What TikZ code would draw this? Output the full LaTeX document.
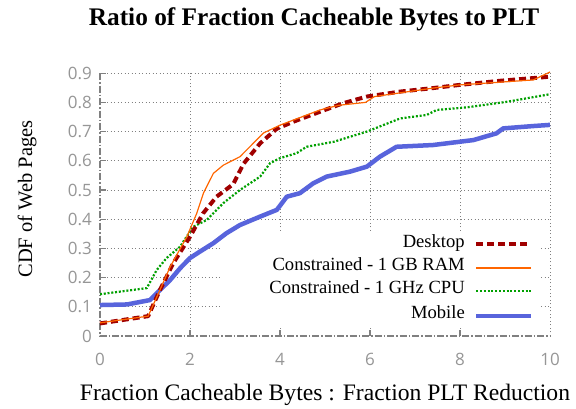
\documentclass[tikz,border=0pt]{standalone}
\usepackage{fontspec}
\setmainfont{Liberation Serif}
\newfontfamily\ticksfont{Open Sans}
\definecolor{deskred}{RGB}{160,0,0}
\definecolor{ramorange}{RGB}{255,102,0}
\definecolor{cpugreen}{RGB}{0,160,0}
\definecolor{mobblue}{RGB}{88,100,220}
\definecolor{axgray}{RGB}{128,128,128}
\definecolor{tickgray}{RGB}{150,150,150}
\tikzset{
  gridline/.style={draw=axgray, line width=0.9pt, dash pattern=on 1pt off 2.5pt},
  axisline/.style={draw=axgray, line width=1.6pt, dash pattern=on 7pt off 2pt on 1.5pt off 2pt},
  tickmark/.style={draw=axgray, line width=1.2pt},
  ticklabel/.style={text=tickgray, font=\ticksfont\fontsize{17}{17}\selectfont, inner sep=0pt},
  desktopline/.style={draw=deskred, line width=4pt, dash pattern=on 7pt off 4pt, line join=round},
  ramline/.style={draw=ramorange, line width=1.2pt, line join=round},
  cpuline/.style={draw=cpugreen, line width=2.2pt, dash pattern=on 2pt off 1.8pt, line join=round},
  mobileline/.style={draw=mobblue, line width=4.5pt, line join=round},
  legendtext/.style={anchor=mid east, inner sep=0pt, font=\fontsize{18.6}{19}\selectfont},
}
\begin{document}
\begin{tikzpicture}[x=1pt,y=1pt]
\useasboundingbox[fill=white] (0,0) rectangle (576,409);
\node[font=\bfseries\fontsize{25.3}{26}\selectfont, inner sep=0pt] (title) at (314,390) {Ratio of Fraction Cacheable Bytes to PLT};
\node[rotate=90, font=\fontsize{20.5}{21}\selectfont, inner sep=0pt] (ylabel) at (27,210) {CDF of Web Pages};
\node[font=\fontsize{23.6}{24}\selectfont, inner sep=0pt] (xlabel) at (325,14) {Fraction Cacheable Bytes : Fraction PLT Reduction};
\begin{scope}[x=45pt, y=292pt, shift={(100pt,73pt)}]
  % grid
  \foreach \v in {0.1,0.2,...,0.95} \draw[gridline] (0,\v) -- (10,\v);
  \foreach \u in {2,4,...,10} \draw[gridline] (\u,0) -- (\u,0.9);
  % legend background
  \fill[white] (2.67,0.03) rectangle (9.78,0.353);
  % ticks
  \foreach \v in {0.1,0.2,...,0.95} \draw[tickmark] (0,\v) -- ++(6pt,0);
  \foreach \u in {2,4,6,8} \draw[tickmark] (\u,0) -- ++(0,6pt);
  % axes
  \draw[axisline] (0,0.9) -- (0,0) -- (10,0);
  % tick labels
  \foreach \v/\t in {0/0,0.1/0.1,0.2/0.2,0.3/0.3,0.4/0.4,0.5/0.5,0.6/0.6,0.7/0.7,0.8/0.8,0.9/0.9}
    \node[ticklabel, anchor=east] at ([xshift=-8pt]0,\v) {\t};
  \foreach \u in {0,2,4,6,8,10}
    \node[ticklabel] at ([yshift=-23pt]\u,0) {\u};
  % curves
  \draw[cpuline] (0,0.143) -- (1.04,0.164) -- (1.26,0.226) -- (1.48,0.267) -- (1.78,0.306) -- (2.07,0.374) -- (2.37,0.397) -- (2.74,0.455) -- (3.11,0.5) -- (3.56,0.546) -- (3.78,0.592) -- (4,0.609) -- (4.37,0.626) -- (4.59,0.648) -- (5.19,0.665) -- (5.93,0.70) -- (6.67,0.745) -- (7.26,0.757) -- (7.48,0.774) -- (8.15,0.783) -- (9.04,0.802) -- (10,0.828);
  \draw[mobileline] (0,0.106) -- (0.6,0.108) -- (1.11,0.123) -- (1.33,0.157) -- (1.56,0.192) -- (1.78,0.232) -- (2,0.267) -- (2.22,0.289) -- (2.52,0.318) -- (2.81,0.352) -- (3.11,0.38) -- (3.56,0.409) -- (3.93,0.432) -- (4.15,0.477) -- (4.44,0.489) -- (4.74,0.523) -- (5.04,0.546) -- (5.56,0.563) -- (5.93,0.58) -- (6.22,0.614) -- (6.59,0.648) -- (7.4,0.654) -- (8.3,0.671) -- (8.81,0.694) -- (8.96,0.711) -- (9.63,0.719) -- (10,0.723);
  \draw[desktopline] (0,0.043) -- (1.07,0.068) -- (1.33,0.157) -- (1.63,0.25) -- (2.0,0.34) -- (2.29,0.42) -- (2.59,0.477) -- (2.96,0.52) -- (3.19,0.59) -- (3.56,0.66) -- (3.93,0.71) -- (4.3,0.734) -- (4.89,0.768) -- (5.4,0.797) -- (5.93,0.82) -- (6.67,0.837) -- (7.4,0.849) -- (8,0.86) -- (8.89,0.874) -- (10,0.888);
  \draw[ramline] (0,0.045) -- (1.07,0.068) -- (1.33,0.157) -- (1.56,0.237) -- (1.93,0.34) -- (2.15,0.42) -- (2.3,0.49) -- (2.52,0.557) -- (2.74,0.585) -- (3.11,0.614) -- (3.33,0.648) -- (3.63,0.695) -- (4,0.722) -- (4.89,0.774) -- (5.3,0.79) -- (5.9,0.80) -- (6.1,0.82) -- (7.4,0.849) -- (8,0.86) -- (9.63,0.877) -- (10,0.904);
  % legend
  \node[legendtext] (lg1) at (8.11,0.312) {Desktop};
  \node[legendtext] (lg2) at (8.11,0.233) {Constrained - 1 GB RAM};
  \node[legendtext] (lg3) at (8.11,0.155) {Constrained - 1 GHz CPU};
  \node[legendtext] (lg4) at (8.11,0.068) {Mobile};
  \coordinate (s1a) at (8.36,0.314); \coordinate (s1b) at (9.58,0.314);
  \coordinate (s2a) at (8.36,0.233); \coordinate (s2b) at (9.58,0.233);
  \coordinate (s3a) at (8.36,0.155); \coordinate (s3b) at (9.58,0.155);
  \coordinate (s4a) at (8.36,0.068); \coordinate (s4b) at (9.58,0.068);
  \draw[desktopline] (s1a) -- (s1b);
  \draw[ramline] (s2a) -- (s2b);
  \draw[cpuline] (s3a) -- (s3b);
  \draw[mobileline] (s4a) -- (s4b);
\end{scope}
\end{tikzpicture}
\end{document}
